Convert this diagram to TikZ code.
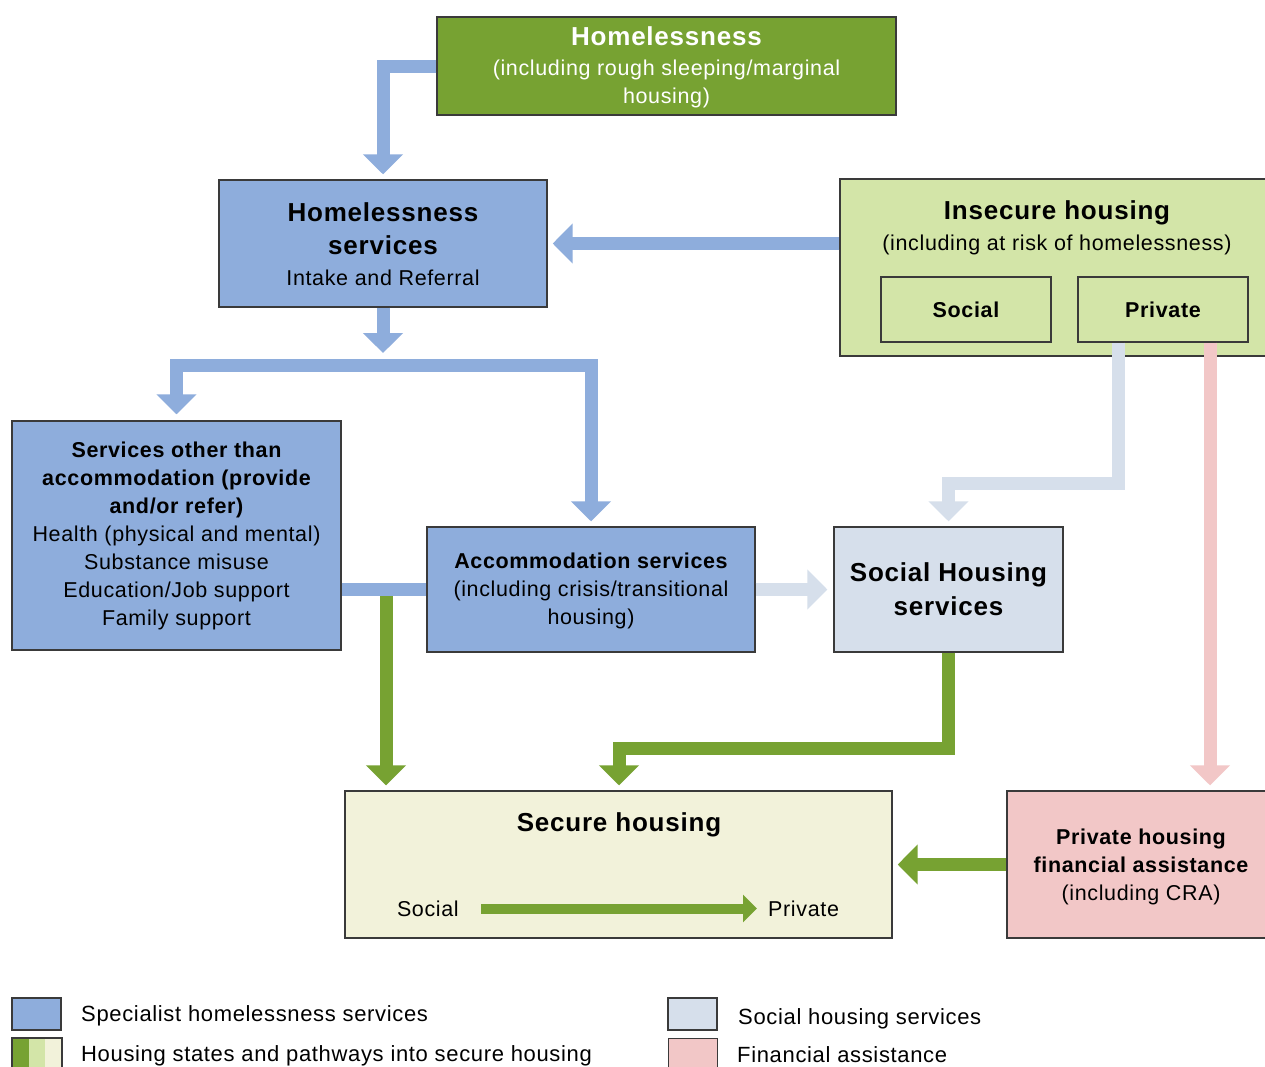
\documentclass[tikz,border=0pt]{standalone}
\usepackage{fontspec}
\setmainfont[LetterSpace=3]{Liberation Sans}
\usetikzlibrary{arrows.meta}
\definecolor{cblue}{HTML}{8EADDC}
\definecolor{clblue}{HTML}{D6DFEB}
\definecolor{cgreen}{HTML}{77A232}
\definecolor{clgreen}{HTML}{D3E5A8}
\definecolor{ccream}{HTML}{F2F2DA}
\definecolor{cpink}{HTML}{F2C7C7}
\definecolor{cedge}{HTML}{3A3A3A}
\newcommand\bigb{\fontsize{26}{28}\selectfont\bfseries}
\newcommand\medb{\fontsize{21.5}{28}\selectfont\bfseries}
\newcommand\regt{\fontsize{21.5}{28}\selectfont}
\newcommand\legt{\fontsize{22}{28}\selectfont}
\tikzset{
  box/.style={draw=cedge, line width=1.4pt, rectangle, inner sep=0pt, align=center},
  txt/.style={inner sep=0pt, align=center, font=\regt},
  bigarr/.style={line width=13pt, line join=miter, -{Triangle[width=39pt,length=20pt]}},
  barrow/.style={bigarr, draw=cblue},
  lbarrow/.style={bigarr, draw=clblue},
  garrow/.style={bigarr, draw=cgreen},
  parrow/.style={bigarr, draw=cpink},
  bline/.style={line width=13pt, draw=cblue},
}
\begin{document}
\begin{tikzpicture}[x=1pt,y=-1pt]
\clip (0,0) rectangle (1265,1066);
\fill[white] (0,0) rectangle (1265,1066);

% boxes
\node[box, fill=cgreen, minimum width=459pt, minimum height=98pt] (hl) at (666.5,66) {};
\node[txt, text=white] (hlt) at (666.5,67) {\bigb Homelessness\\[2pt]\regt (including rough sleeping/marginal\\\regt housing)};

\node[box, fill=cblue, minimum width=328pt, minimum height=127pt] (hs) at (383,243.5) {};
\node[txt] (hst) at (383,244.5) {\bigb Homelessness\\[5pt]\bigb services\\[3pt]\regt Intake and Referral};

\node[box, fill=clgreen, minimum width=434pt, minimum height=177pt] (ih) at (1057,267.5) {};
\node[txt] (iht) at (1057,228) {\bigb Insecure housing\\[3pt]\regt (including at risk of homelessness)};
\node[box, fill=clgreen, minimum width=170pt, minimum height=65pt] (soc) at (966,309.5) {\medb Social};
\node[box, fill=clgreen, minimum width=170pt, minimum height=65pt] (pri) at (1163,309.5) {\medb Private};

\node[box, fill=cblue, minimum width=329pt, minimum height=229pt] (so) at (176.5,535.5) {};
\node[txt] (sot) at (176.5,536) {\medb Services other than\\\medb accommodation (provide\\\medb and/or refer)\\\regt Health (physical and mental)\\\regt Substance misuse\\\regt Education/Job support\\\regt Family support};

\node[box, fill=cblue, minimum width=328pt, minimum height=125pt] (ac) at (591,589.5) {};
\node[txt] (act) at (591,590.5) {\medb Accommodation services\\\regt (including crisis/transitional\\\regt housing)};

\node[box, fill=clblue, minimum width=229pt, minimum height=125pt] (sh) at (948.5,589.5) {};
\node[txt] (sht) at (948.5,589) {\bigb Social Housing\\[6pt]\bigb services};

\node[box, fill=ccream, minimum width=547pt, minimum height=147pt] (sec) at (618.5,864.5) {};
\node[txt] (sect) at (619,825) {\bigb Secure housing};
\node[txt, anchor=east] (secs) at (459,909) {\regt Social};
\node[txt, anchor=west] (secp) at (768,909) {\regt Private};

\node[box, fill=cpink, minimum width=268pt, minimum height=147pt] (pf) at (1141,864.5) {};
\node[txt] (pft) at (1141,866.5) {\medb Private housing\\\medb financial assistance\\\regt (including CRA)};

% connectors
\draw[barrow, shorten >=5pt] (hl.west) -| (hs.north);
\coordinate (brm) at (383,365);
\coordinate (brr) at (591,365);
\draw[barrow, shorten >=12pt] (hs.south) -- (brm);
\draw[line width=13pt, draw=cblue, line join=miter, {Triangle[width=39pt,length=20pt]}-{Triangle[width=39pt,length=20pt]}, shorten <=6pt, shorten >=5pt] (so.north) |- (brr) -- (ac.north);
\draw[barrow, shorten >=5pt] (hs.east -| ih.west) -- (hs.east);

\coordinate (lbk) at (1118,483.5);
\draw[lbarrow, shorten >=5pt] (lbk |- pri.south) -- (lbk) -| (sh.north);
\coordinate (pk) at (1210,342);
\draw[parrow, shorten >=5pt] (pk |- pri.south) -- (pk |- pf.north);

\draw[bline] (so.east |- ac.west) -- (ac.west);
\coordinate (gx) at (386,596);
\draw[garrow, shorten >=5pt] (gx) -- (gx |- sec.north);
\draw[lbarrow, shorten >=6pt] (ac.east) -- (sh.west);

\coordinate (gk) at (619,748.5);
\draw[garrow, shorten >=5pt] (sh.south) |- (gk) -- (gk |- sec.north);
\draw[garrow, shorten >=5pt] (pf.west) -- (pf.west -| sec.east);

\coordinate (ia) at (481,908.5);
\coordinate (ib) at (757,908.5);
\draw[line width=10pt, draw=cgreen, -{Triangle[width=27pt,length=14pt]}] (ia) -- (ib);

% legend
\node[box, fill=cblue, minimum width=49pt, minimum height=32pt] (lg1) at (36.5,1014) {};
\node[txt, anchor=west] (lg1t) at (81,1015.5) {\legt Specialist homelessness services};
\node[box, fill=ccream, minimum width=49pt, minimum height=32pt, anchor=north west] (lg2) at (12,1038) {};
\fill[cgreen] ([shift={(0.7pt,-0.7pt)}]lg2.north west) rectangle ++(16,40);
\fill[clgreen] ([shift={(16.7pt,-0.7pt)}]lg2.north west) rectangle ++(16,40);
\draw[draw=cedge, line width=1.4pt] (lg2.north west) rectangle (lg2.south east);
\node[txt, anchor=west] (lg2t) at (81,1055.5) {\legt Housing states and pathways into secure housing};
\node[box, fill=clblue, minimum width=49pt, minimum height=32pt] (lg3) at (692.5,1014) {};
\node[txt, anchor=west] (lg3t) at (738,1018.5) {\legt Social housing services};
\node[box, fill=cpink, minimum width=49pt, minimum height=32pt, anchor=north west] (lg4) at (668,1038) {};
\node[txt, anchor=west] (lg4t) at (737,1055) {\legt Financial assistance};
\end{tikzpicture}
\end{document}
